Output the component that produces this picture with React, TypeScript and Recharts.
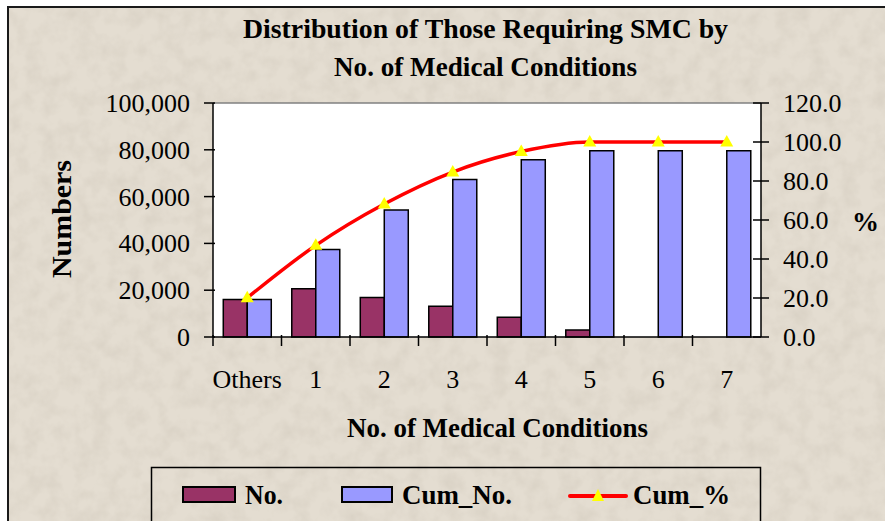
import { ComposedChart, Bar, Line, XAxis, YAxis, CartesianGrid, ReferenceLine } from 'recharts';

const categories = ['Others', '1', '2', '3', '4', '5', '6', '7'];
const countValues = [16000, 20600, 16900, 13100, 8400, 3000, 0, 0];
const cumCountValues = [16000, 37400, 54300, 67300, 75700, 79600, 79600, 79600];
const cumPercentValues = [20.1, 47.0, 68.2, 84.6, 95.1, 100, 100, 100];
const leftTicks = [0, 20000, 40000, 60000, 80000, 100000];
const rightTicks = [0, 20, 40, 60, 80, 100, 120];

const data = categories.map((category, i) => ({
  category,
  no: countValues[i],
  cumNo: cumCountValues[i],
  cumPct: cumPercentValues[i],
}));

const SERIF = "'Liberation Serif', 'Times New Roman', serif";
const W = 885;
const H = 521;
const PLOT_LEFT = 213;
const PLOT_RIGHT = 761;
const HALF_BAND = (PLOT_RIGHT - PLOT_LEFT) / categories.length / 2;
const MAROON = '#993366';
const PERIWINKLE = '#9999FF';
const BEIGE = '#E4DDD1';

const LeftTick = (props: any) => {
  const { x, y, payload } = props;
  return (
    <g>
      <line x1={x - 9} x2={x + 2} y1={y} y2={y} stroke="#000" strokeWidth={1.5} />
      <text x={x - 23} y={y + 9} textAnchor="end" fontSize={26} fontFamily={SERIF} fill="#000">
        {Number(payload.value).toLocaleString('en-US')}
      </text>
    </g>
  );
};

const RightTick = (props: any) => {
  const { x, y, payload } = props;
  return (
    <g>
      <line x1={x - 8} x2={x + 8} y1={y} y2={y} stroke="#000" strokeWidth={1.5} />
      <text x={x + 22} y={y + 9} textAnchor="start" fontSize={26} fontFamily={SERIF} fill="#000">
        {Number(payload.value).toFixed(1)}
      </text>
    </g>
  );
};

const CategoryTick = (props: any) => {
  const { x, y, payload } = props;
  return (
    <g>
      <line x1={x - HALF_BAND} x2={x - HALF_BAND} y1={y - 2} y2={y + 9} stroke="#000" strokeWidth={1.5} />
      <text x={x} y={y + 51} textAnchor="middle" fontSize={26} fontFamily={SERIF} fill="#000">
        {payload.value}
      </text>
    </g>
  );
};

const TriangleDot = (props: any) => {
  const { cx, cy, index } = props;
  if (cx == null || cy == null) return <g key={index} />;
  return <path key={index} d={`M${cx},${cy - 7} L${cx + 6.5},${cy + 4.5} L${cx - 6.5},${cy + 4.5} Z`} fill="#FFFF00" />;
};

export default function App() {
  return (
    <div style={{ position: 'absolute', left: 0, top: 0, width: W, height: H, background: '#fff', overflow: 'hidden' }}>
      <div
        style={{
          position: 'absolute',
          left: 7,
          top: 6,
          right: -4,
          bottom: -4,
          borderLeft: '2px solid #1a1a1a',
          borderTop: '2px solid #1a1a1a',
          background: BEIGE,
          overflow: 'hidden',
        }}
      >
        {/* soft mottled texture like the original backdrop */}
        <svg width={W} height={H} style={{ position: 'absolute', left: 0, top: 0 }}>
          <filter id="mottle">
            <feTurbulence type="fractalNoise" baseFrequency="0.06" numOctaves={3} seed={7} />
            <feColorMatrix type="matrix" values="0 0 0 0 0.55  0 0 0 0 0.5  0 0 0 0 0.42  0 0 0 -1.6 1.0" />
          </filter>
          <rect width={W} height={H} filter="url(#mottle)" opacity={0.35} />
        </svg>
      </div>
      <div style={{ position: 'absolute', left: 0, top: 0 }}>
        <ComposedChart
          width={W}
          height={H}
          data={data}
          margin={{ top: 103, right: 0, bottom: 124, left: 0 }}
          barCategoryGap="15%"
          barGap={0}
        >
          <CartesianGrid yAxisId="left" fill="#FFFFFF" horizontal={false} vertical={false} />
          <XAxis
            dataKey="category"
            height={60}
            tickSize={0}
            tickMargin={0}
            tickLine={false}
            axisLine={{ stroke: '#000', strokeWidth: 1.5 }}
            tick={<CategoryTick />}
            interval={0}
          />
          <YAxis
            yAxisId="left"
            width={PLOT_LEFT}
            domain={[0, 100000]}
            ticks={leftTicks}
            tickSize={0}
            tickMargin={0}
            tickLine={false}
            axisLine={{ stroke: '#000', strokeWidth: 1.5 }}
            tick={<LeftTick />}
            interval={0}
          />
          <YAxis
            yAxisId="right"
            orientation="right"
            width={W - PLOT_RIGHT}
            domain={[0, 120]}
            ticks={rightTicks}
            tickSize={0}
            tickMargin={0}
            tickLine={false}
            axisLine={{ stroke: '#000', strokeWidth: 1.5 }}
            tick={<RightTick />}
            interval={0}
          />
          <ReferenceLine yAxisId="left" y={100000} stroke="#808080" strokeWidth={1.5} />
          <Bar yAxisId="left" dataKey="no" name="No." fill={MAROON} stroke="#000" strokeWidth={1.5} isAnimationActive={false} />
          <Bar yAxisId="left" dataKey="cumNo" name="Cum_No." fill={PERIWINKLE} stroke="#000" strokeWidth={1.5} isAnimationActive={false} />
          <Line
            yAxisId="right"
            type="monotone"
            dataKey="cumPct"
            name="Cum_%"
            stroke="#FF0000"
            strokeWidth={3.5}
            dot={<TriangleDot />}
            activeDot={false}
            isAnimationActive={false}
          />
        </ComposedChart>
      </div>
      <svg width={W} height={H} style={{ position: 'absolute', left: 0, top: 0, pointerEvents: 'none' }}>
        <g fontFamily={SERIF} fontWeight="bold" fill="#000">
          <text x={243} y={38} fontSize={28} textLength={485} lengthAdjust="spacingAndGlyphs">
            Distribution of Those Requiring SMC by
          </text>
          <text x={334} y={76} fontSize={28} textLength={303} lengthAdjust="spacingAndGlyphs">
            No. of Medical Conditions
          </text>
          <text x={347} y={437} fontSize={27} textLength={301} lengthAdjust="spacingAndGlyphs">
            No. of Medical Conditions
          </text>
          <text
            x={0}
            y={0}
            fontSize={28}
            textAnchor="middle"
            textLength={118}
            lengthAdjust="spacingAndGlyphs"
            transform="translate(71,219) rotate(-90)"
          >
            Numbers
          </text>
          <text x={852} y={231} fontSize={27}>%</text>
        </g>
        <rect x={151.5} y={467.5} width={609} height={70} fill="none" stroke="#000" strokeWidth={1.5} />
        <rect x={183} y={487} width={52} height={15} fill={MAROON} stroke="#000" strokeWidth={2} />
        <rect x={342} y={487} width={50} height={15} fill={PERIWINKLE} stroke="#000" strokeWidth={2} />
        <line x1={570} x2={626} y1={496} y2={496} stroke="#FF0000" strokeWidth={4} strokeLinecap="round" />
        <path d="M598,489 L604,501 L592,501 Z" fill="#FFFF00" />
        <g fontFamily={SERIF} fontWeight="bold" fill="#000" fontSize={27}>
          <text x={245} y={504} textLength={38} lengthAdjust="spacingAndGlyphs">No.</text>
          <text x={402} y={504} textLength={110} lengthAdjust="spacingAndGlyphs">Cum_No.</text>
          <text x={633} y={504} textLength={97} lengthAdjust="spacingAndGlyphs">Cum_%</text>
        </g>
      </svg>
    </div>
  );
}
